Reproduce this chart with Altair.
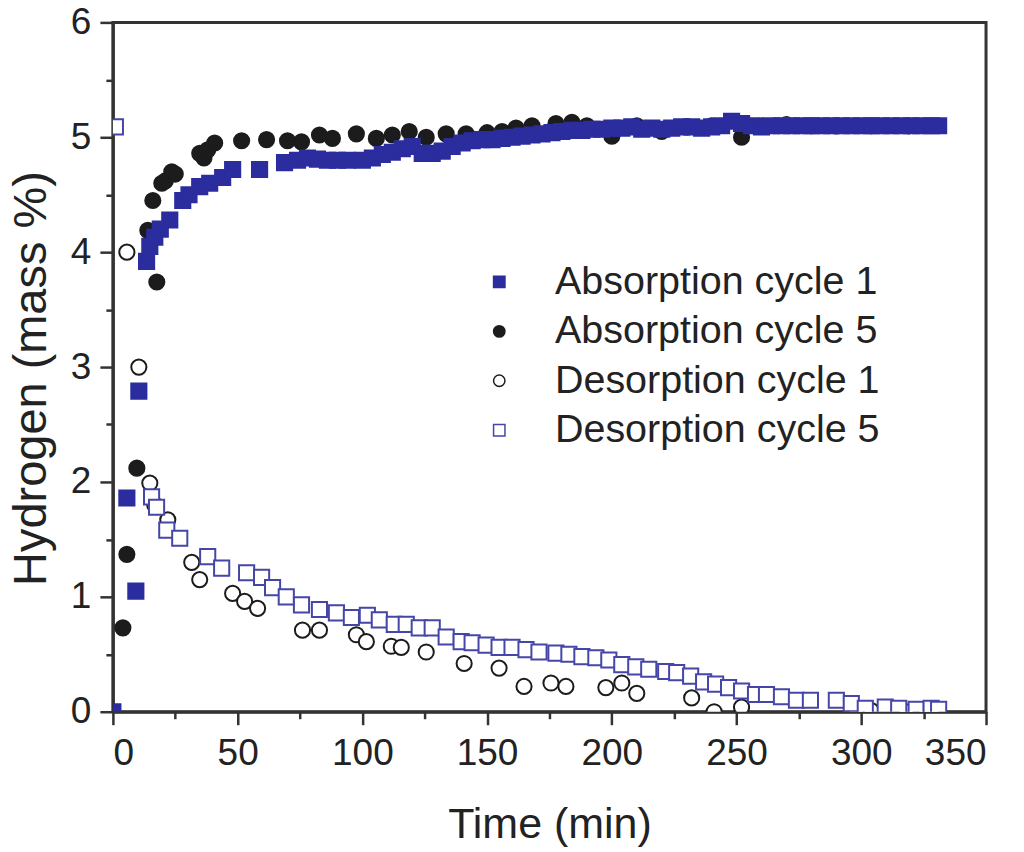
import altair as alt
import pandas as pd

SERIES = ["Absorption cycle 1", "Absorption cycle 5", "Desorption cycle 1", "Desorption cycle 5"]

abs1_t = [0, 5.6, 9.2, 10.4, 13.5, 14.8, 16.8, 19, 22.8, 28, 30.5, 34.8, 38.8, 44, 48, 58.8,
          68.8, 74, 78, 82, 86, 90, 94, 100, 104, 108, 112, 116, 120, 124, 128, 132, 136, 140,
          144, 148, 152, 156, 160, 164, 168, 172, 176, 180, 184, 188, 192, 196, 200, 204, 208,
          212, 216, 220, 224, 228, 232, 236, 240, 244, 248, 252, 256, 260, 264, 268, 272, 276,
          280, 284, 288, 292, 296, 300, 304, 308, 312, 316, 320, 324, 328, 331]
abs1_h = [0.0, 1.86, 1.05, 2.79, 3.92, 4.05, 4.13, 4.2, 4.28, 4.45, 4.5, 4.57, 4.6, 4.65, 4.72, 4.72,
          4.78, 4.8, 4.82, 4.81, 4.8, 4.8, 4.8, 4.8, 4.82, 4.85, 4.87, 4.9, 4.92, 4.86, 4.86, 4.88, 4.92, 4.95,
          4.97, 4.98, 4.98, 4.99, 5.0, 5.01, 5.02, 5.03, 5.04, 5.05, 5.06, 5.06, 5.07, 5.07, 5.08, 5.08, 5.09,
          5.07, 5.08, 5.07, 5.08, 5.09, 5.09, 5.08, 5.09, 5.1, 5.14, 5.12, 5.1, 5.09, 5.1, 5.1, 5.1, 5.1,
          5.1, 5.1, 5.1, 5.1, 5.1, 5.1, 5.1, 5.1, 5.1, 5.1, 5.1, 5.1, 5.1, 5.1]

abs5_t = [4, 5.6, 9.6, 14, 16, 17.6, 19.6, 21, 23.6, 25, 34.8, 36.5, 38, 40.8, 51.6, 61.6, 70,
          75.6, 82.8, 88, 97.6, 105.6, 112, 118.8, 125.6, 133.6, 141.6, 150, 156, 161.6, 168,
          177.6, 184, 190, 200, 210, 220, 230, 240, 252, 260, 270, 280, 290, 304, 319]
abs5_h = [0.73, 1.37, 2.12, 4.19, 4.45, 3.74, 4.6, 4.62, 4.7, 4.68, 4.86, 4.82, 4.89, 4.95, 4.97, 4.98, 4.97,
          4.96, 5.02, 4.99, 5.03, 4.99, 5.02, 5.05, 5.0, 5.03, 5.03, 5.04, 5.05, 5.08, 5.1,
          5.12, 5.13, 5.1, 5.01, 5.1, 5.05, 5.09, 5.1, 5.0, 5.1, 5.11, 5.1, 5.1, 5.1, 5.1]

des1_t = [5.6, 10.4, 14.8, 16.8, 22, 31.6, 34.8, 48, 52.8, 58, 76, 82.8, 97.6, 101.6, 111.6, 115.6,
          125.6, 140.8, 154.8, 164.8, 175.6, 181.6, 197.6, 204, 210, 232, 241, 252, 298, 304, 318, 326]
des1_h = [4.0, 3.0, 1.99, 1.8, 1.67, 1.3, 1.15, 1.03, 0.96, 0.9, 0.71, 0.71, 0.67, 0.61, 0.57, 0.56,
          0.52, 0.42, 0.38, 0.22, 0.25, 0.22, 0.21, 0.25, 0.16, 0.12, 0.0, 0.04, 0.0, 0.01, 0.0, 0.01]

des5_t = [1, 15.5, 17.5, 21.6, 26.8, 38, 43.6, 53.6, 59.6, 64, 69.5, 75.6, 82.8, 89.6, 95.6, 102,
          106.8, 112.8, 117.6, 122.8, 128, 133.6, 139.6, 144, 149.6, 154.8, 160, 165.6, 170.8,
          177.6, 182.8, 188, 193.6, 198.8, 204, 209.6, 214.8, 221.6, 226, 231.6, 236.8, 241.6,
          246.8, 252, 257.6, 262, 268, 274, 279.6, 290, 296, 301.6, 309.6, 315, 322, 328, 331]
des5_h = [5.09, 1.87, 1.78, 1.58, 1.51, 1.35, 1.25, 1.21, 1.17, 1.08, 1.0, 0.93, 0.89, 0.86, 0.82, 0.84,
          0.8, 0.76, 0.76, 0.73, 0.73, 0.65, 0.61, 0.6, 0.58, 0.56, 0.56, 0.54, 0.52,
          0.51, 0.5, 0.48, 0.47, 0.45, 0.41, 0.39, 0.37, 0.35, 0.34, 0.31, 0.26, 0.24,
          0.21, 0.18, 0.15, 0.15, 0.13, 0.1, 0.1, 0.1, 0.07, 0.03, 0.04, 0.03, 0.02, 0.03, 0.02]

x_major = [0, 50, 100, 150, 200, 250, 300, 350]
x_minor = [25, 75, 125, 175, 225, 275, 325]
y_major = [0, 1, 2, 3, 4, 5, 6]
y_minor = [0.5, 1.5, 2.5, 3.5, 4.5, 5.5]

# draw order: abs5, des1, abs1, des5
rows = []
for name, ts, hs in [(SERIES[1], abs5_t, abs5_h), (SERIES[2], des1_t, des1_h),
                     (SERIES[0], abs1_t, abs1_h), (SERIES[3], des5_t, des5_h)]:
    for t, h in zip(ts, hs):
        rows.append({"t": t, "h": h, "series": name})
df = pd.DataFrame(rows)

BLUE = "#2b2d9e"
OPEN_BLUE = "#4546a8"
BLACK = "#1c1c1c"
FONT = "Liberation Sans"
AX = "#333333"

legend = alt.Legend(
    title=None, orient="none", legendX=367, legendY=240, padding=0,
    labelFontSize=39.5, labelFont=FONT, labelColor="#222", symbolSize=130, labelLimit=0,
    symbolStrokeWidth=1.5, rowPadding=8.5, labelOffset=36,
)

main = alt.Chart(df).mark_point(filled=True, opacity=1, size=230, strokeWidth=2, clip=True).encode(
    x=alt.X("t:Q", scale=alt.Scale(domain=[0, 350], nice=False),
            axis=alt.Axis(values=x_major, title="Time (min)", titleY=126, titleBaseline="alphabetic",
                          labelPadding=11, format="d")),
    y=alt.Y("h:Q", scale=alt.Scale(domain=[0, 6], nice=False),
            axis=alt.Axis(values=y_major, title="Hydrogen (mass %)", titleX=-57, titleY=356,
                          titleFontSize=47, labelPadding=9, format="d")),
    shape=alt.Shape("series:N", scale=alt.Scale(domain=SERIES, range=["square", "circle", "circle", "square"]),
                    legend=legend),
    fill=alt.Fill("series:N", scale=alt.Scale(domain=SERIES, range=[BLUE, BLACK, "white", "white"]),
                  legend=legend),
    stroke=alt.Stroke("series:N", scale=alt.Scale(domain=SERIES, range=[BLUE, BLACK, BLACK, OPEN_BLUE]),
                      legend=legend),
)

minor = alt.Chart(df).mark_point(opacity=0).encode(
    x=alt.X("t:Q", scale=alt.Scale(domain=[0, 350], nice=False),
            axis=alt.Axis(values=x_minor, orient="bottom", labels=False, domain=False, tickSize=7,
                          title=None, grid=False)),
    y=alt.Y("h:Q", scale=alt.Scale(domain=[0, 6], nice=False),
            axis=alt.Axis(values=y_minor, orient="left", labels=False, domain=False, tickSize=7,
                          title=None, grid=False)),
)

chart = alt.layer(main, minor).resolve_scale(x="independent", y="independent").properties(
    width=874, height=690,
    autosize=alt.AutoSizeParams(type="none"),
    padding={"left": 105, "top": 14, "right": 30, "bottom": 136},
).configure_view(stroke=AX, strokeWidth=3).configure_axis(
    grid=False, domainColor=AX, domainWidth=3, tickColor=AX, tickWidth=2.5, tickSize=13,
    labelFont=FONT, labelFontSize=37, labelColor="#222", titleFont=FONT, titleFontSize=43,
    titleColor="#222", titleFontWeight="normal",
)

chart.save("out.html", embed_options={"renderer": "svg", "actions": False})
